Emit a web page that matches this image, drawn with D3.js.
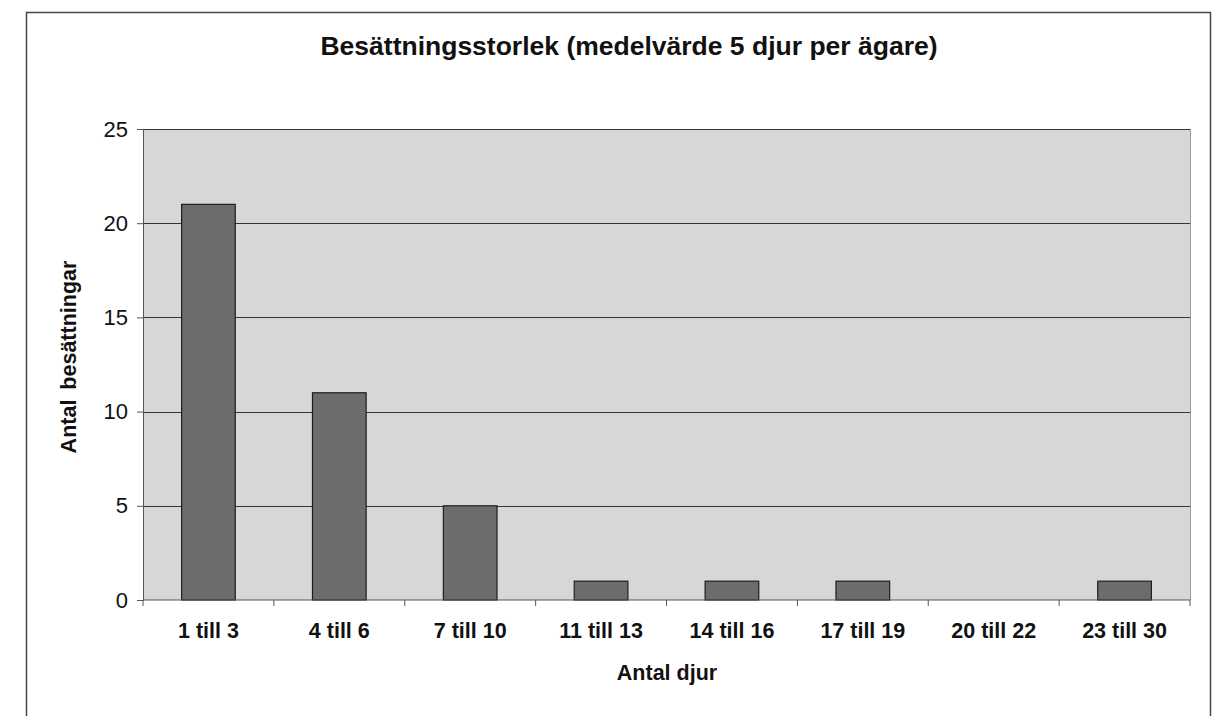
<!DOCTYPE html>
<html>
<head>
<meta charset="utf-8">
<script src="https://cdn.jsdelivr.net/npm/d3@7"></script>
<style>
  body { margin: 0; background: #fff; }
  svg { display: block; }
  text { font-family: "Liberation Sans", Arial, sans-serif; fill: #111; }
</style>
</head>
<body>
<svg id="chart" width="1219" height="716"></svg>
<script>
const categories = ["1 till 3", "4 till 6", "7 till 10", "11 till 13", "14 till 16", "17 till 19", "20 till 22", "23 till 30"];
const counts = [21, 11, 5, 1, 1, 1, 0, 1];
const yTicks = [0, 5, 10, 15, 20, 25];

const title = "Besättningsstorlek (medelvärde 5 djur per ägare)";
const xTitle = "Antal djur";
const yTitle = "Antal besättningar";

const svg = d3.select("#chart");

const plot = { left: 143, right: 1190, top: 129, bottom: 600 };

// outer frame
svg.append("rect")
    .attr("x", 26.5)
    .attr("y", 12.5)
    .attr("width", 1184)
    .attr("height", 720)
    .attr("fill", "none")
    .attr("stroke", "#4a4452")
    .attr("stroke-width", 1.5);

const x = d3.scaleBand()
    .domain(categories)
    .range([plot.left, plot.right])
    .paddingInner(0.59)
    .paddingOuter(0.295);

const xCat = d3.scaleBand()
    .domain(categories)
    .range([plot.left, plot.right]);

const y = d3.scaleLinear()
    .domain([0, 25])
    .range([plot.bottom, plot.top]);

// plot background
svg.append("rect")
    .attr("x", plot.left)
    .attr("y", plot.top)
    .attr("width", plot.right - plot.left)
    .attr("height", plot.bottom - plot.top)
    .attr("fill", "#d7d7d7");

// gridlines
svg.append("g")
    .selectAll("line")
    .data(yTicks.filter(d => d > 0))
    .enter()
    .append("line")
    .attr("x1", plot.left)
    .attr("x2", plot.right)
    .attr("y1", d => Math.round(y(d)) + 0.5)
    .attr("y2", d => Math.round(y(d)) + 0.5)
    .attr("stroke", "#3a3436")
    .attr("stroke-width", 1);

// right border of plot area
svg.append("line")
    .attr("x1", plot.right + 0.5)
    .attr("x2", plot.right + 0.5)
    .attr("y1", plot.top)
    .attr("y2", plot.bottom)
    .attr("stroke", "#9a9a9a");

// bars
svg.append("g")
    .selectAll("rect")
    .data(counts.map((v, i) => ({ cat: categories[i], value: v })).filter(d => d.value > 0))
    .enter()
    .append("rect")
    .attr("x", d => x(d.cat))
    .attr("y", d => y(d.value))
    .attr("width", x.bandwidth())
    .attr("height", d => y(0) - y(d.value))
    .attr("fill", "#6c6c6c")
    .attr("stroke", "#1e1e1e")
    .attr("stroke-width", 1.2);

// y axis
const yAxis = svg.append("g")
    .attr("transform", `translate(${plot.left},0)`)
    .call(d3.axisLeft(y).tickValues(yTicks).tickSize(6).tickPadding(9));
yAxis.select(".domain").attr("stroke", "#555");
yAxis.selectAll(".tick line").attr("stroke", "#555");
yAxis.selectAll("text")
    .style("font-size", "22px")
    .attr("fill", "#111");

// x axis: ticks at category boundaries
const xAxisG = svg.append("g")
    .attr("transform", `translate(0,${plot.bottom})`);
xAxisG.append("line")
    .attr("x1", plot.left)
    .attr("x2", plot.right)
    .attr("stroke", "#555");
xAxisG.selectAll(".bound")
    .data(categories.concat([null]))
    .enter()
    .append("line")
    .attr("class", "bound")
    .attr("x1", (d, i) => i < categories.length ? xCat(d) : plot.right)
    .attr("x2", (d, i) => i < categories.length ? xCat(d) : plot.right)
    .attr("y1", 0)
    .attr("y2", 6)
    .attr("stroke", "#555");
xAxisG.selectAll(".lbl")
    .data(categories)
    .enter()
    .append("text")
    .attr("class", "lbl")
    .attr("x", d => xCat(d) + xCat.bandwidth() / 2)
    .attr("y", 38)
    .attr("text-anchor", "middle")
    .style("font-size", "21.5px")
    .style("font-weight", "bold")
    .text(d => d);

// titles
svg.append("text")
    .attr("x", 629)
    .attr("y", 55)
    .attr("text-anchor", "middle")
    .style("font-size", "26.5px")
    .style("font-weight", "bold")
    .text(title);

svg.append("text")
    .attr("x", 667)
    .attr("y", 680)
    .attr("text-anchor", "middle")
    .style("font-size", "21.5px")
    .style("font-weight", "bold")
    .text(xTitle);

svg.append("text")
    .attr("transform", "translate(76,357) rotate(-90)")
    .attr("text-anchor", "middle")
    .style("font-size", "21.5px")
    .style("font-weight", "bold")
    .style("word-spacing", "4px")
    .text(yTitle);
</script>
</body>
</html>
